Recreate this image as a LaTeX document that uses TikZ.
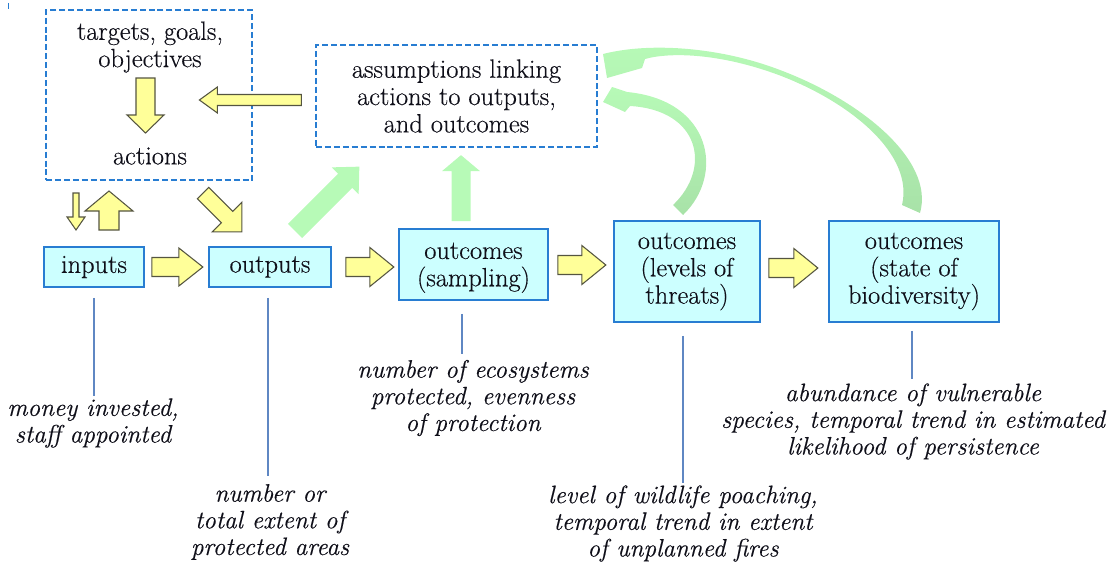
\documentclass[tikz,border=0pt]{standalone}
\usepackage{fontspec}
\setmainfont{Latin Modern Roman}[UprightFeatures={FakeBold=0.4}, ItalicFeatures={FakeBold=0.4}]
\usetikzlibrary{calc}
\definecolor{boxfill}{RGB}{204,255,255}
\definecolor{boxline}{RGB}{40,125,210}
\definecolor{yfill}{RGB}{255,255,153}
\definecolor{yline}{RGB}{85,85,65}
\definecolor{gfill}{RGB}{183,250,183}
\definecolor{gdark}{RGB}{168,226,168}
\definecolor{leadc}{RGB}{95,135,195}
\definecolor{ink}{RGB}{15,15,25}

\tikzset{
  pics/blockarrow/.style args={#1/#2/#3/#4}{code={
    \path[pic actions] (0,-#2) -- ({#1-#4},-#2) -- ({#1-#4},-#3) -- (#1,0)
      -- ({#1-#4},#3) -- ({#1-#4},#2) -- (0,#2) -- cycle;
  }}
}

\begin{document}
\begin{tikzpicture}[x=0.75pt,y=-0.75pt,
  txt/.style={font=\fontsize{19.8}{20.5}\selectfont, align=center, text=ink},
  lbl/.style={font=\fontsize{18.9}{20}\selectfont\itshape, align=center, inner sep=0pt, text=ink},
  solidbox/.style 2 args={draw=boxline, line width=1.3pt, fill=boxfill,
    minimum width=#1*0.75pt, minimum height=#2*0.75pt, inner sep=0pt},
  dashbox/.style 2 args={draw=boxline, line width=0.9pt, dash pattern=on 4.5pt off 2.2pt,
    minimum width=#1*0.75pt, minimum height=#2*0.75pt, inner sep=0pt},
  yarrow/.style={fill=yfill, draw=yline, line width=0.8pt, line join=miter},
  garrow/.style={fill=gfill, draw=none},
  lead/.style={draw=leadc, line width=0.9pt},
]
\useasboundingbox (0,0) rectangle (1112,567);

% small tick mark in the corner
\draw[boxline, line width=1pt] (8.5,3) -- (8.5,9);

% dashed frames
\node[dashbox={206}{170}] (plan) at (149,95) {};
\node[txt] (targets) at (150,47) {targets, goals,\\objectives};
\node[txt] (actions) at (150,156) {actions};
\node[dashbox={281}{102}, txt] (assume) at (456.5,96) {assumptions linking\\actions to outputs,\\and outcomes};

% main chain of boxes
\node[solidbox={100}{40}, txt] (inputs) at (94,267) {inputs};
\node[solidbox={122}{40}, txt] (outputs) at (270,267) {outputs};
\node[solidbox={149}{71}, txt, text depth=0pt] (sampling) at (473.5,264.5) {outcomes\\(sampling)};
\node[solidbox={146}{101}, txt] (threats) at (687,271.5) {outcomes\\(levels of\\threats)};
\node[solidbox={170}{101}, txt] (biodiv) at (914,271.5) {outcomes\\(state of\\biodiversity)};

% yellow block arrows
\pic[yarrow, rotate=-90] at (145.5,78) {blockarrow=55/9.5/18.5/18};
\pic[yarrow, rotate=180] at ($(assume.west)+(-14,4)$) {blockarrow=102/5.5/13/18};
\pic[yarrow, rotate=-90] at (76,193) {blockarrow=37/3/9/13};
\pic[yarrow, rotate=90] at (109,230) {blockarrow=39/10/24/20};
\pic[yarrow, rotate=-45] at (203,193) {blockarrow=55/8/21/21};
\pic[yarrow] at ($(inputs.east)+(7,0)$) {blockarrow=51/9.5/19/24};
\pic[yarrow] at ($(outputs.east)+(14,0)$) {blockarrow=48/9.5/19.5/24};
\pic[yarrow] at ($(sampling.east)+(9,0.5)$) {blockarrow=48/9.5/19.5/24};
\pic[yarrow] at ($(threats.east)+(8,-3.5)$) {blockarrow=49/9.5/19.5/24};

% green feedback arrows
\pic[garrow, rotate=45] at (295,231) {blockarrow=91/10/19/20};
\pic[garrow, rotate=90] at ($(sampling.north)+(-12.5,-7)$) {blockarrow=66/9.5/19/16};

\shade[top color=gfill, bottom color=gdark]
  (673,205) .. controls (712,168) and (700,110) .. (630,106)
  -- (625,112) -- (603,102) -- (612,87) -- (627,92)
  .. controls (712,100) and (725,175) .. (683,215) -- cycle;

\shade[top color=gfill, bottom color=gdark]
  (902,205) .. controls (914,155) and (852,103) .. (780,75.5)
  .. controls (720,53) and (670,52) .. (645,59)
  -- (642,68) -- (607,78) -- (603,54)
  .. controls (650,42) and (720,47) .. (780,70)
  .. controls (860,100) and (935,160) .. (920,213) -- cycle;

% example measures
\node[lbl] (l1) at (93,423) {money invested,\\staff appointed};
\node[lbl] (l2) at (270,522) {number or\\total extent of\\protected areas};
\node[lbl] (l3) at (473,398) {number of ecosystems\\protected, evenness\\of protection};
\node[lbl] (l4) at (683,523.5) {level of wildlife poaching,\\temporal trend in extent\\of unplanned fires};
\node[lbl] (l5) at (913,421.5) {abundance of vulnerable\\species, temporal trend in estimated\\likelihood of persistence};

\draw[lead] (inputs.south) ++(0,10) -- ++(0,98);
\draw[lead] (outputs.south) ++(-2,10) -- ++(0,178);
\draw[lead] (sampling.south) ++(-11.5,13) -- ++(0,40);
\draw[lead] (threats.south) ++(-4,13) -- ++(0,147);
\draw[lead] (biodiv.south) ++(-2,8) -- ++(0,48);
\end{tikzpicture}
\end{document}
